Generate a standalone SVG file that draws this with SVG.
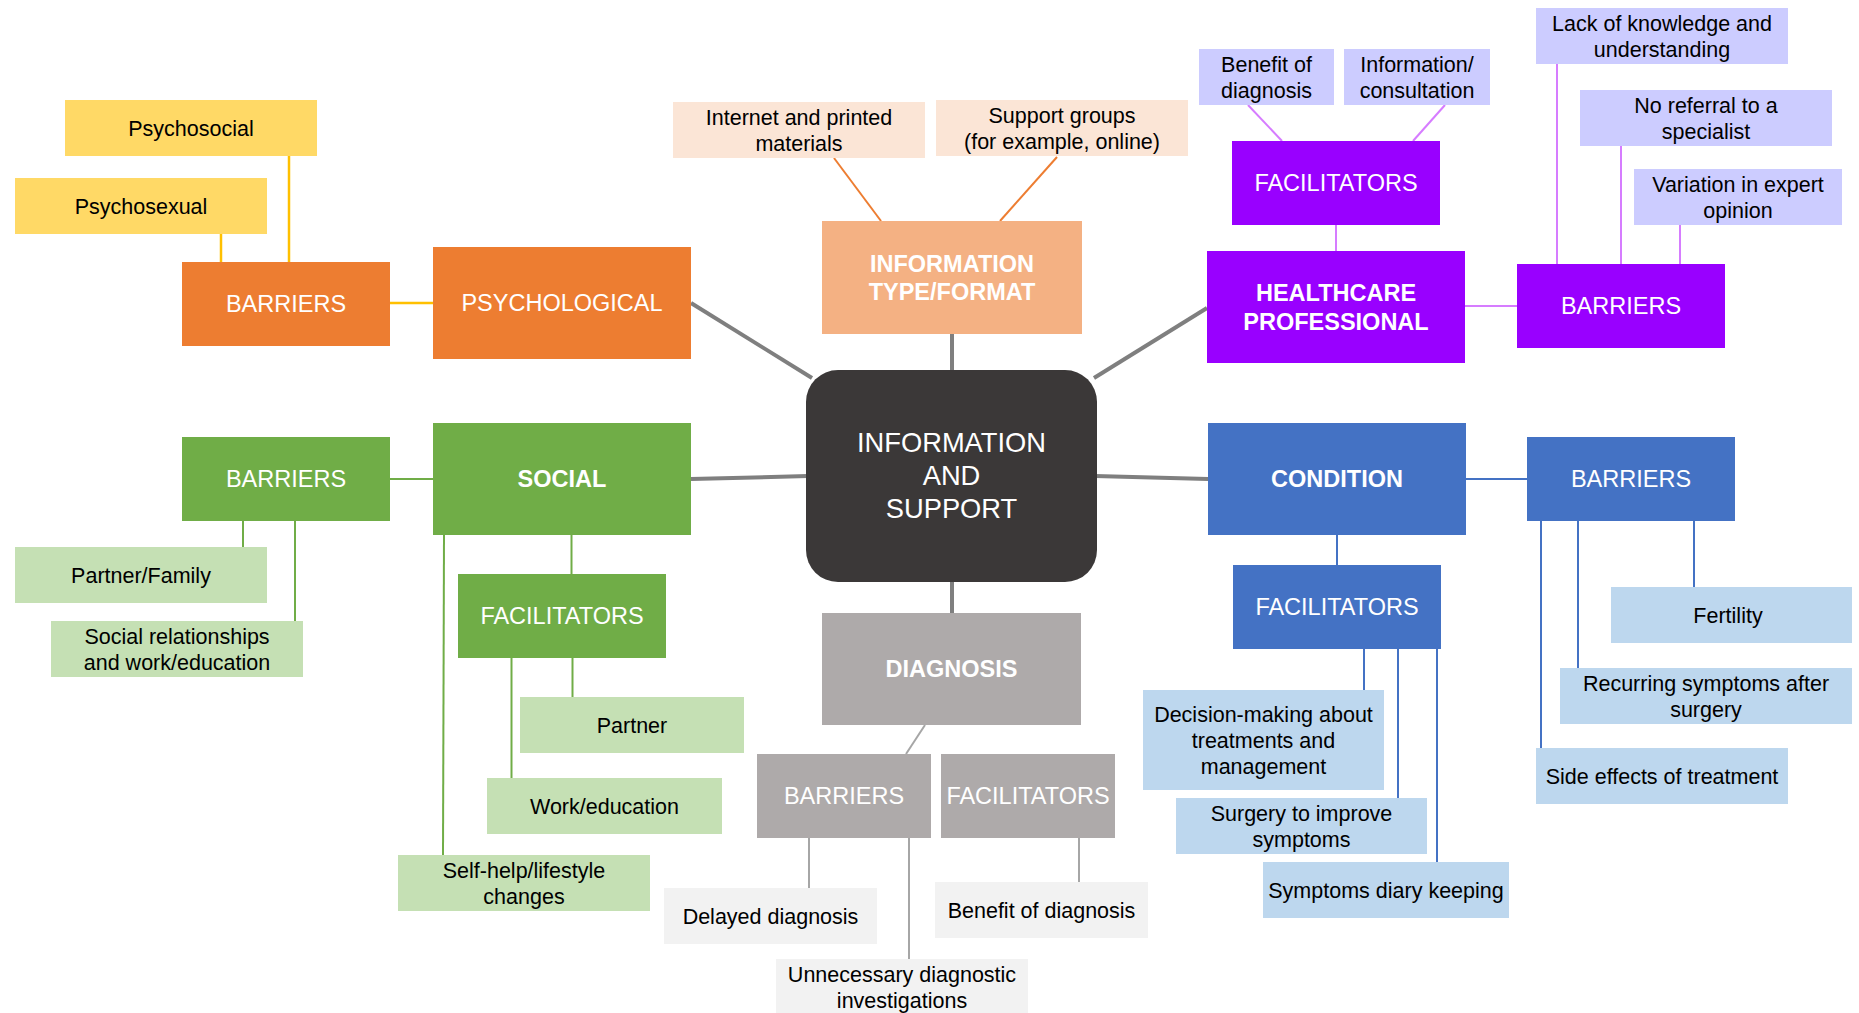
<svg xmlns="http://www.w3.org/2000/svg" width="1859" height="1013" viewBox="0 0 1859 1013">
<style>
text{font-family:"Liberation Sans",Arial,sans-serif;text-anchor:middle}
.lf{font-size:21.5px;fill:#000}
.hd{font-size:23.5px;fill:#fff}
.bd{font-size:23.5px;fill:#fff;font-weight:bold}
.ct{font-size:27.3px;fill:#fff}
.main{stroke:#7f7f7f;stroke-width:4;fill:none}
.cy{stroke:#FFC000;stroke-width:2.5;fill:none}
.co{stroke:#ED7D31;stroke-width:2;fill:none}
.cp{stroke:#D67CFF;stroke-width:2;fill:none}
.cg{stroke:#70AD47;stroke-width:2;fill:none}
.cb{stroke:#4472C4;stroke-width:2;fill:none}
.cgr{stroke:#A6A6A6;stroke-width:2;fill:none}
</style>
<rect width="1859" height="1013" fill="#fff"/>
<g id="connectors">
<line class="main" x1="691" y1="303" x2="812" y2="378"/>
<line class="main" x1="952" y1="334" x2="952" y2="372"/>
<line class="main" x1="1207" y1="308" x2="1094" y2="378"/>
<line class="main" x1="691" y1="479" x2="808" y2="476"/>
<line class="main" x1="1095" y1="476" x2="1208" y2="479"/>
<line class="main" x1="952" y1="580" x2="952" y2="613"/>
<line class="cy" x1="221" y1="234" x2="221" y2="262"/>
<line class="cy" x1="289" y1="156" x2="289" y2="262"/>
<line class="cy" x1="390" y1="303" x2="433" y2="303"/>
<line class="co" x1="834" y1="158" x2="881" y2="221"/>
<line class="co" x1="1057" y1="157" x2="1000" y2="221"/>
<line class="cp" x1="1248" y1="105" x2="1282" y2="141"/>
<line class="cp" x1="1445" y1="105" x2="1413" y2="141"/>
<line class="cp" x1="1336" y1="225" x2="1336" y2="251"/>
<line class="cp" x1="1465" y1="306" x2="1517" y2="306"/>
<line class="cp" x1="1557" y1="64" x2="1557" y2="264"/>
<line class="cp" x1="1621" y1="146" x2="1621" y2="264"/>
<line class="cp" x1="1680" y1="225" x2="1680" y2="264"/>
<line class="cg" x1="390" y1="479" x2="433" y2="479"/>
<line class="cg" x1="243" y1="521" x2="243" y2="547"/>
<line class="cg" x1="295" y1="521" x2="295" y2="621"/>
<line class="cg" x1="571.5" y1="535" x2="571.5" y2="574"/>
<line class="cg" x1="572.5" y1="658" x2="572.5" y2="697"/>
<line class="cg" x1="511.5" y1="658" x2="511.5" y2="778"/>
<line class="cg" x1="444" y1="535" x2="443" y2="855"/>
<line class="cb" x1="1337" y1="535" x2="1337" y2="565"/>
<line class="cb" x1="1364" y1="649" x2="1364" y2="690"/>
<line class="cb" x1="1398" y1="649" x2="1398" y2="798"/>
<line class="cb" x1="1437" y1="649" x2="1437" y2="862"/>
<line class="cb" x1="1466" y1="479" x2="1527" y2="479"/>
<line class="cb" x1="1694" y1="521" x2="1694" y2="587"/>
<line class="cb" x1="1578" y1="521" x2="1578" y2="668"/>
<line class="cb" x1="1541" y1="521" x2="1541" y2="748"/>
<line class="cgr" x1="925" y1="725" x2="906" y2="754"/>
<line class="cgr" x1="809" y1="838" x2="809" y2="888"/>
<line class="cgr" x1="909" y1="838" x2="909" y2="959"/>
<line class="cgr" x1="1079" y1="838" x2="1079" y2="882"/>
</g>
<g id="center"><rect x="806" y="370" width="291" height="212" rx="32" fill="#3B3838"/>
<text class="ct" x="951.5" y="451.5">INFORMATION</text><text class="ct" x="951.5" y="484.5">AND</text><text class="ct" x="951.5" y="517.5">SUPPORT</text></g>
<!-- Psychological -->
<g id="psychological"><rect x="433" y="247" width="258" height="112" fill="#ED7D31"/><text class="hd" x="562" y="311">PSYCHOLOGICAL</text></g>
<g id="psych-barriers"><rect x="182" y="262" width="208" height="84" fill="#ED7D31"/><text class="hd" x="286" y="311.5">BARRIERS</text></g>
<g id="psychosocial"><rect x="65" y="100" width="252" height="56" fill="#FFD966"/><text class="lf" x="191" y="135.5">Psychosocial</text></g>
<g id="psychosexual"><rect x="15" y="178" width="252" height="56" fill="#FFD966"/><text class="lf" x="141" y="213.5">Psychosexual</text></g>
<!-- Information type -->
<g id="info-type"><rect x="822" y="221" width="260" height="113" fill="#F4B183"/><text class="bd" x="952" y="272">INFORMATION</text><text class="bd" x="952" y="300">TYPE/FORMAT</text></g>
<g id="internet"><rect x="673" y="102" width="252" height="56" fill="#FBE5D6"/><text class="lf" x="799" y="125">Internet and printed</text><text class="lf" x="799" y="151">materials</text></g>
<g id="support-groups"><rect x="936" y="100" width="252" height="56" fill="#FBE5D6"/><text class="lf" x="1062" y="123">Support groups</text><text class="lf" x="1062" y="149">(for example, online)</text></g>
<!-- Healthcare professional -->
<g id="healthcare"><rect x="1207" y="251" width="258" height="112" fill="#9900FF"/><text class="bd" x="1336" y="301">HEALTHCARE</text><text class="bd" x="1336" y="329.5">PROFESSIONAL</text></g>
<g id="hcp-facilitators"><rect x="1232" y="141" width="208" height="84" fill="#9900FF"/><text class="hd" x="1336" y="191">FACILITATORS</text></g>
<g id="hcp-benefit"><rect x="1199" y="49" width="135" height="56" fill="#CCCCFF"/><text class="lf" x="1266.5" y="71.5">Benefit of</text><text class="lf" x="1266.5" y="97.5">diagnosis</text></g>
<g id="hcp-information"><rect x="1344" y="49" width="146" height="56" fill="#CCCCFF"/><text class="lf" x="1417" y="71.5">Information/</text><text class="lf" x="1417" y="97.5">consultation</text></g>
<g id="hcp-barriers"><rect x="1517" y="264" width="208" height="84" fill="#9900FF"/><text class="hd" x="1621" y="314">BARRIERS</text></g>
<g id="hcp-lack"><rect x="1536" y="8" width="252" height="56" fill="#CCCCFF"/><text class="lf" x="1662" y="30.5">Lack of knowledge and</text><text class="lf" x="1662" y="56.5">understanding</text></g>
<g id="hcp-referral"><rect x="1580" y="90" width="252" height="56" fill="#CCCCFF"/><text class="lf" x="1706" y="112.5">No referral to a</text><text class="lf" x="1706" y="138.5">specialist</text></g>
<g id="hcp-variation"><rect x="1634" y="169" width="208" height="56" fill="#CCCCFF"/><text class="lf" x="1738" y="191.5">Variation in expert</text><text class="lf" x="1738" y="217.5">opinion</text></g>
<!-- Social -->
<g id="social"><rect x="433" y="423" width="258" height="112" fill="#70AD47"/><text class="bd" x="562" y="487">SOCIAL</text></g>
<g id="social-barriers"><rect x="182" y="437" width="208" height="84" fill="#70AD47"/><text class="hd" x="286" y="487">BARRIERS</text></g>
<g id="partner-family"><rect x="15" y="547" width="252" height="56" fill="#C5E0B4"/><text class="lf" x="141" y="582.5">Partner/Family</text></g>
<g id="social-relationships"><rect x="51" y="621" width="252" height="56" fill="#C5E0B4"/><text class="lf" x="177" y="643.5">Social relationships</text><text class="lf" x="177" y="669.5">and work/education</text></g>
<g id="social-facilitators"><rect x="458" y="574" width="208" height="84" fill="#70AD47"/><text class="hd" x="562" y="624">FACILITATORS</text></g>
<g id="partner"><rect x="520" y="697" width="224" height="56" fill="#C5E0B4"/><text class="lf" x="632" y="732.5">Partner</text></g>
<g id="work-education"><rect x="487" y="778" width="235" height="56" fill="#C5E0B4"/><text class="lf" x="604.5" y="813.5">Work/education</text></g>
<g id="self-help"><rect x="398" y="855" width="252" height="56" fill="#C5E0B4"/><text class="lf" x="524" y="877.5">Self-help/lifestyle</text><text class="lf" x="524" y="903.5">changes</text></g>
<!-- Diagnosis -->
<g id="diagnosis"><rect x="822" y="613" width="259" height="112" fill="#AEAAAA"/><text class="bd" x="951.5" y="677">DIAGNOSIS</text></g>
<g id="diag-barriers"><rect x="757" y="754" width="174" height="84" fill="#AEAAAA"/><text class="hd" x="844" y="804">BARRIERS</text></g>
<g id="diag-facilitators"><rect x="941" y="754" width="174" height="84" fill="#AEAAAA"/><text class="hd" x="1028" y="804">FACILITATORS</text></g>
<g id="delayed"><rect x="664" y="888" width="213" height="56" fill="#F2F2F2"/><text class="lf" x="770.5" y="923.5">Delayed diagnosis</text></g>
<g id="unnecessary"><rect x="776" y="959" width="252" height="56" fill="#F2F2F2"/><text class="lf" x="902" y="981.5">Unnecessary diagnostic</text><text class="lf" x="902" y="1007.5">investigations</text></g>
<g id="diag-benefit"><rect x="935" y="882" width="213" height="56" fill="#F2F2F2"/><text class="lf" x="1041.5" y="917.5">Benefit of diagnosis</text></g>
<!-- Condition -->
<g id="condition"><rect x="1208" y="423" width="258" height="112" fill="#4472C4"/><text class="bd" x="1337" y="487">CONDITION</text></g>
<g id="cond-facilitators"><rect x="1233" y="565" width="208" height="84" fill="#4472C4"/><text class="hd" x="1337" y="615">FACILITATORS</text></g>
<g id="decision"><rect x="1143" y="690" width="241" height="100" fill="#BDD7EE"/><text class="lf" x="1263.5" y="721.5">Decision-making about</text><text class="lf" x="1263.5" y="747.5">treatments and</text><text class="lf" x="1263.5" y="773.5">management</text></g>
<g id="surgery"><rect x="1176" y="798" width="251" height="56" fill="#BDD7EE"/><text class="lf" x="1301.5" y="820.5">Surgery to improve</text><text class="lf" x="1301.5" y="846.5">symptoms</text></g>
<g id="diary"><rect x="1263" y="862" width="246" height="56" fill="#BDD7EE"/><text class="lf" x="1386" y="897.5">Symptoms diary keeping</text></g>
<g id="cond-barriers"><rect x="1527" y="437" width="208" height="84" fill="#4472C4"/><text class="hd" x="1631" y="487">BARRIERS</text></g>
<g id="fertility"><rect x="1611" y="587" width="241" height="56" fill="#BDD7EE"/><text class="lf" x="1728" y="622.5">Fertility</text></g>
<g id="recurring"><rect x="1560" y="668" width="292" height="56" fill="#BDD7EE"/><text class="lf" x="1706" y="690.5">Recurring symptoms after</text><text class="lf" x="1706" y="716.5">surgery</text></g>
<g id="side-effects"><rect x="1536" y="748" width="252" height="56" fill="#BDD7EE"/><text class="lf" x="1662" y="783.5">Side effects of treatment</text></g>
</svg>
